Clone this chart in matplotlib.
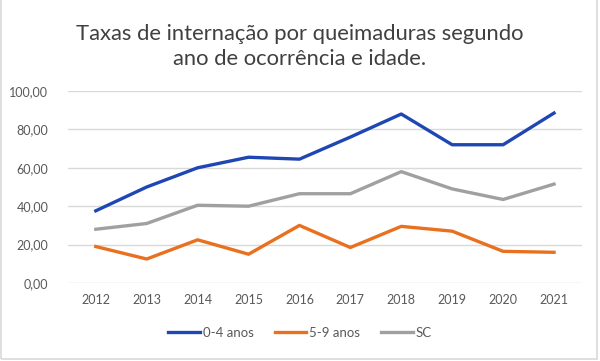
import matplotlib
matplotlib.use("Agg")
import matplotlib.pyplot as plt
from matplotlib.patches import Rectangle
from matplotlib.ticker import FuncFormatter

plt.rcParams["font.family"] = ["Lato", "DejaVu Sans"]

years = [2012, 2013, 2014, 2015, 2016, 2017, 2018, 2019, 2020, 2021]
idade_0_4 = [37.6, 50.0, 60.0, 65.5, 64.5, 76.0, 88.0, 72.0, 72.0, 88.5]
idade_5_9 = [19.0, 12.5, 22.5, 15.0, 30.0, 18.5, 29.5, 27.0, 16.5, 16.0]
sc = [28.0, 31.0, 40.5, 40.0, 46.5, 46.5, 58.0, 49.0, 43.5, 51.5]
labels = ["0-4 anos", "5-9 anos", "SC"]

text_color = "#595959"

fig = plt.figure(figsize=(6.0, 3.61), dpi=100)
fig.patches.append(Rectangle((0.002, 0.006), 0.993, 1.2, transform=fig.transFigure,
                             fill=False, edgecolor="#d9d9d9", linewidth=1.2))
ax = fig.add_axes([0.113, 0.216, 0.857, 0.532])

x = list(range(len(years)))
ax.plot(x, idade_0_4, color="#1f47b4", linewidth=2.4, label=labels[0])
ax.plot(x, idade_5_9, color="#e8701e", linewidth=2.4, label=labels[1])
ax.plot(x, sc, color="#a0a0a0", linewidth=2.4, label=labels[2])

ax.set_xlim(-0.55, len(years) - 0.45)
ax.set_ylim(0, 100)
ax.set_yticks(range(0, 101, 20))
ax.yaxis.set_major_formatter(FuncFormatter(lambda v, p: f"{v:.2f}".replace(".", ",")))
ax.set_xticks(x)
ax.set_xticklabels([str(y) for y in years])
ax.grid(axis="y", color="#d9d9d9", linewidth=1)
ax.set_axisbelow(True)
for s in ax.spines.values():
    s.set_visible(False)
ax.tick_params(length=0, labelsize=9, colors=text_color, pad=8)
ax.tick_params(axis="y", pad=14)

fig.text(0.5, 0.872, "Taxas de internação por queimaduras segundo\nano de ocorrência e idade.",
         ha="center", va="center", fontsize=15.8, color="#404040", linespacing=1.3)

fig.legend(loc="center", bbox_to_anchor=(0.5, 0.078), ncol=3, frameon=False,
           fontsize=9.5, handlelength=2.4, handletextpad=0.2, columnspacing=1.6,
           labelcolor=text_color)

fig.savefig("out.png", dpi=100)
